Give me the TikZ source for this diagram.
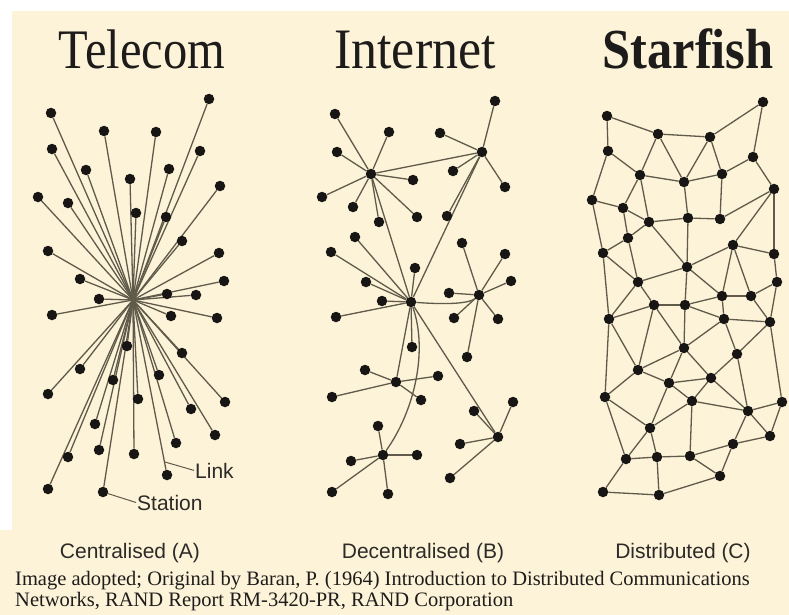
\documentclass[tikz,border=0pt]{standalone}
\usepackage{fontspec}
\setmainfont{Liberation Serif}
\setsansfont{Liberation Sans}
\definecolor{cream}{RGB}{253,243,217}
\definecolor{linecol}{RGB}{96,90,74}
\definecolor{dotcol}{RGB}{24,22,20}
\definecolor{txtcol}{RGB}{30,28,26}
\definecolor{labcol}{RGB}{45,43,40}
\pgfdeclarelayer{bg}
\pgfdeclarelayer{edges}
\pgfsetlayers{bg,edges,main}
\begin{document}
\begin{tikzpicture}[x=1pt,y=-1pt,
  dot/.style={circle,fill=dotcol,inner sep=0pt,minimum size=10.5pt},
  lnk/.style={draw=linecol,line width=1.3pt},
  leader/.style={draw=linecol,line width=1pt},
  ttl/.style={anchor=base,text=txtcol,inner sep=0pt},
  sublab/.style={anchor=base,text=labcol,inner sep=0pt,font=\sffamily\fontsize{21}{24}\selectfont},
  lab/.style={anchor=base west,text=labcol,inner sep=1pt,font=\sffamily\fontsize{21}{24}\selectfont},
  capt/.style={anchor=base west,text=txtcol,inner sep=0pt,font=\fontsize{20.5}{22}\selectfont}]
\useasboundingbox (0,0) rectangle (789,615);
\begin{pgfonlayer}{bg}
\fill[cream] (0,0) rectangle (789,615);
\fill[white] (0,0) rectangle (789,11);
\fill[white] (0,0) rectangle (12,530);
\end{pgfonlayer}

% titles
\node[ttl,font=\fontsize{48.5}{50}\selectfont] (tt1) at (142,69) {\scalebox{1}[1.15]{Telecom}};
\node[ttl,font=\fontsize{52}{54}\selectfont] (tt2) at (415,69) {\scalebox{1}[1.1]{Internet}};
\node[ttl,font=\bfseries\fontsize{50.5}{52}\selectfont] (tt3) at (688,69) {\scalebox{1}[1.12]{Starfish}};

% ---------- Telecom (centralised) ----------
\coordinate (tc) at (133,300);
\foreach \n/\x/\y in {1/51/113, 2/209/99, 3/104/131, 4/156/132, 5/52/149, 6/200/151, 7/86/170, 8/169/169, 9/130/179, 10/220/186, 11/38/197, 12/68/203, 13/136/213, 14/166/217, 15/182/241, 16/48/251, 17/219/253, 18/80/279, 19/224/281, 20/99/299, 21/167/294, 22/196/295, 23/52/315, 24/171/316, 25/217/318, 26/127/346, 27/182/353, 28/80/369, 29/113/380, 30/159/375, 31/48/394, 32/138/399, 33/225/402, 34/191/409, 35/95/424, 36/215/435, 37/176/443, 38/99/450, 39/134/454, 40/68/457, 41/167/475, 42/48/489, 43/103/492}{
  \node[dot] (t\n) at (\x,\y) {};
  \begin{pgfonlayer}{edges}\draw[lnk] (tc) -- (t\n);\end{pgfonlayer}
}
\node[lab] (lnklab) at (194,478) {Link};
\coordinate (lk) at (165,462);
\draw[leader] (lk) -- (lnklab.west);
\node[lab] (stlab) at (136,510) {Station};
\draw[leader] (t43) -- (stlab.west);

% ---------- Internet (decentralised) ----------
\node[dot] (h0) at (411,302) {};
\node[dot] (h1) at (482,152) {};
\node[dot] (h2) at (371,174) {};
\node[dot] (h3) at (479,295) {};
\node[dot] (h4) at (396,382) {};
\node[dot] (h5) at (498,437) {};
\node[dot] (h6) at (383,455) {};
\foreach \h/\x/\y [count=\i] in {2/335/114, 2/389/132, 2/337/152, 2/413/180, 2/322/197, 2/353/207, 2/417/217, 2/379/222,
  1/495/101, 1/440/133, 1/453/171, 1/505/187, 1/447/216,
  0/331/252, 0/355/237, 0/366/282, 0/382/301, 0/415/268, 0/336/317, 0/412/347,
  3/462/243, 3/505/254, 3/511/281, 3/449/293, 3/454/318, 3/498/319, 3/467/357,
  4/365/370, 4/438/376, 4/332/397, 4/421/400,
  5/513/402, 5/474/411, 5/460/444, 5/450/478,
  6/378/426, 6/417/455, 6/351/461, 6/332/492, 6/388/494}{
  \node[dot] (i\i) at (\x,\y) {};
  \begin{pgfonlayer}{edges}\draw[lnk] (h\h) -- (i\i);\end{pgfonlayer}
}
\begin{pgfonlayer}{edges}
\draw[lnk] (h2) -- (h1);
\draw[lnk] (h2) -- (h0);
\draw[lnk] (h1) -- (h0);
\draw[lnk] (h0) -- (h4);
\draw[lnk] (h0) -- (h5);
\draw[lnk] (h0) .. controls (450,305) and (470,303) .. (h3);
\draw[lnk] (h0) .. controls (428,350) and (415,410) .. (h6);
\end{pgfonlayer}

% ---------- Starfish (distributed) ----------
\foreach \n/\x/\y in {1/607/116, 2/658/134, 3/710/137, 4/763/102, 5/608/151, 6/753/157, 7/640/175, 8/684/182, 9/722/174, 10/774/189, 11/592/200, 12/623/208, 13/688/218, 14/720/219, 15/649/222, 16/628/238, 17/733/245, 18/603/253, 19/774/254, 20/687/267, 21/638/282, 22/777/282, 23/722/296, 24/751/296, 25/654/305, 26/685/305, 27/609/319, 28/724/319, 29/770/322, 30/684/348, 31/737/354, 32/638/370, 33/711/378, 34/669/383, 35/605/397, 36/692/401, 37/748/411, 38/782/402, 39/770/436, 40/650/428, 41/733/444, 42/626/459, 43/657/457, 44/690/456, 45/720/476, 46/603/492, 47/659/495}{
  \node[dot] (s\n) at (\x,\y) {};
}
\begin{pgfonlayer}{edges}
\foreach \a/\b in {1/2, 1/5, 2/3, 3/4, 2/7, 2/8, 3/8, 3/9, 4/6, 5/7, 5/11, 7/8, 8/9, 9/6, 6/10, 7/12, 7/15, 8/13, 9/14, 11/12, 12/16, 11/18, 10/14, 10/17, 10/19, 12/15,
  15/16, 16/18, 16/21, 13/15, 13/14, 13/20, 15/20, 17/20, 17/19, 17/23, 17/24, 18/21, 20/21, 20/23, 19/22, 22/24, 23/24, 21/25, 21/27, 25/26, 26/23, 18/27, 20/26, 24/29, 22/29, 23/28, 25/27,
  27/35, 27/32, 25/32, 25/30, 26/30, 28/30, 26/28, 28/29, 28/31, 29/31, 29/38, 30/32, 30/34, 30/33, 31/33, 31/37, 32/34, 32/35, 34/33, 34/36, 33/36, 33/37, 36/37, 37/38, 37/39, 38/39, 37/41, 34/40, 35/40, 36/40, 36/44, 35/42, 40/42, 40/43, 42/43, 43/44, 44/41, 41/39, 44/45, 41/45, 42/46, 46/47, 43/47, 47/45}{
  \draw[lnk] (s\a) -- (s\b);
}
\end{pgfonlayer}

% subtitles
\node[sublab] (sa) at (130,558) {Centralised (A)};
\node[sublab] (sb) at (423,558) {Decentralised (B)};
\node[sublab] (sc) at (683,558) {Distributed (C)};

% caption
\node[capt] (c1) at (15,585) {Image adopted; Original by Baran, P. (1964) Introduction to Distributed Communications};
\node[capt] (c2) at (15,606) {Networks, RAND Report RM-3420-PR, RAND Corporation};
\end{tikzpicture}
\end{document}
